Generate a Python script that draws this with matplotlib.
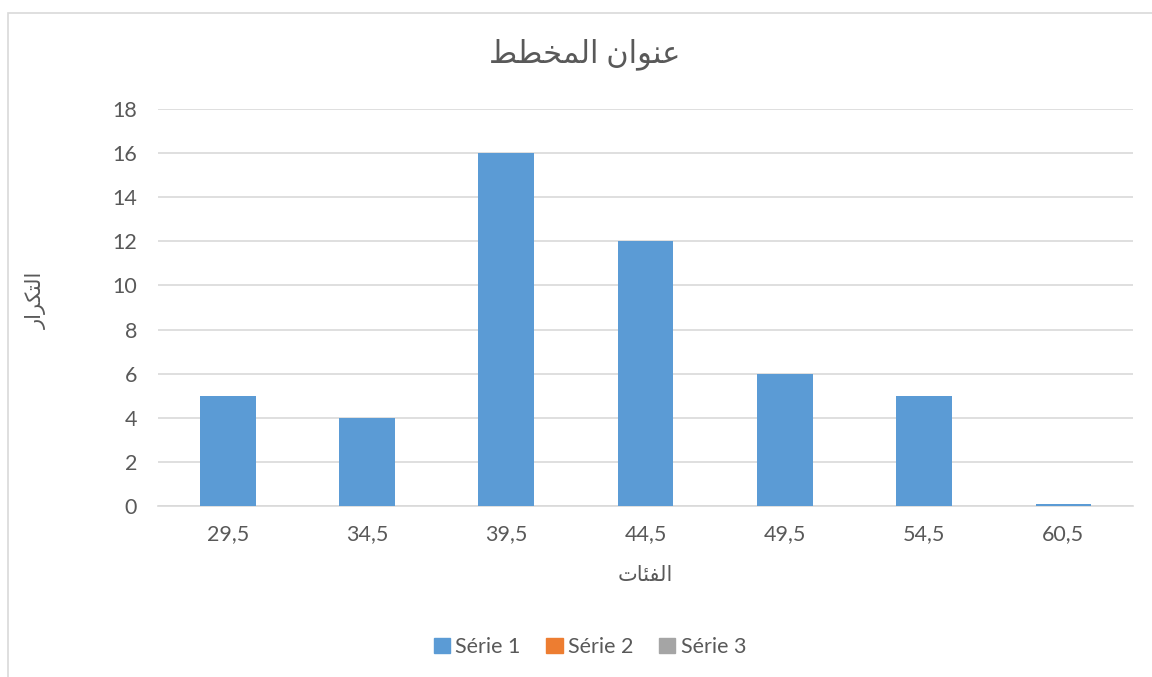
import matplotlib.pyplot as plt
import matplotlib.patches as mpatches
import numpy as np

# datos del grafico
categorias = ["29,5", "34,5", "39,5", "44,5", "49,5", "54,5", "60,5"]
serie1 = [5, 4, 16, 12, 6, 5, 0.1]
series = ["Série 1", "Série 2", "Série 3"]
colores = ["#5B9BD5", "#ED7D31", "#A5A5A5"]

# textos arabes en formas de presentacion, en orden visual (matplotlib no hace shaping)
titulo = "\uFEC2\uFEC4\uFEA8\uFEE4\uFEDF\uFE8D \uFEE5\uFE8D\uFEEE\uFEE8\uFECB"   # عنوان المخطط
eje_y = "\uFEAD\uFE8D\uFEAE\uFEDC\uFE98\uFEDF\uFE8D"                               # التكرار
eje_x = "\uFE95\uFE8E\uFE8C\uFED4\uFEDF\uFE8D"                                      # الفئات

plt.rcParams['font.family'] = ['Lato', 'DejaVu Sans']
gris_texto = "#595959"

fig = plt.figure(figsize=(11.52, 6.77), dpi=100)
ax = fig.add_axes([158/1152, 1-506/677, (1133-158)/1152, (506-109)/677])

# marco del area del grafico
fig.patches.append(mpatches.Rectangle((8/1152, -0.1), 1.2, 1-13/677+0.1, transform=fig.transFigure,
                                      fill=False, edgecolor="#D9D9D9", linewidth=1.2))

x = np.arange(len(categorias))
ax.bar(x, serie1, width=0.4, color=colores[0], zorder=3)

ax.set_xlim(-0.5, len(categorias)-0.5)
ax.set_ylim(0, 18)
ax.set_yticks(range(0, 19, 2))
ax.set_xticks(x)
ax.set_xticklabels(categorias)
ax.grid(axis="y", color="#D9D9D9", linewidth=1.2, zorder=0)
for s in ["top", "right", "left"]:
    ax.spines[s].set_visible(False)
ax.spines["bottom"].set_color("#D9D9D9")
ax.spines["bottom"].set_linewidth(1.2)
ax.tick_params(axis="both", length=0, labelsize=15.5, colors=gris_texto)
ax.tick_params(axis="y", pad=15)
ax.tick_params(axis="x", pad=13)

fig.text(585/1152, 1-54/677, titulo, ha="center", va="center", fontsize=22, color=gris_texto)
fig.text(36/1152, 1-300/677, eje_y, ha="center", va="center", rotation=90, fontsize=15, color=gris_texto)
fig.text(645/1152, 1-575/677, eje_x, ha="center", va="center", fontsize=15, color=gris_texto)

handles = [mpatches.Patch(color=c, label=s) for c, s in zip(colores, series)]
fig.legend(handles=handles, loc="center", bbox_to_anchor=(590/1152, 1-647/677), ncol=3, frameon=False,
           fontsize=15.5, labelcolor=gris_texto, handlelength=0.75, handleheight=0.75, handletextpad=0.25,
           columnspacing=1.2)

plt.savefig("out.png", dpi=100)
